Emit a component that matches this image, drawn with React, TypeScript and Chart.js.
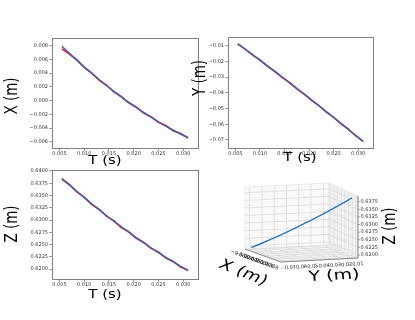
import React, { useEffect, useRef } from "react";
import { Chart, registerables } from "chart.js";
Chart.register(...registerables);

// ---------------- data ----------------
const T = [0.0055, 0.0070, 0.0085, 0.0100, 0.0115, 0.0130, 0.0145, 0.0160, 0.0175, 0.0190, 0.0205, 0.0220, 0.0235, 0.0250, 0.0265, 0.0280, 0.0295, 0.0310];

const X_FIT = [0.00790, 0.00687, 0.00587, 0.00490, 0.00396, 0.00306, 0.00218, 0.00134, 0.00052, -0.00026, -0.00101, -0.00173, -0.00242, -0.00308, -0.00371, -0.00430, -0.00487, -0.00540];
const X_MEAS = [0.00752, 0.00676, 0.00594, 0.00482, 0.00402, 0.00298, 0.00224, 0.00127, 0.00058, -0.00033, -0.00095, -0.00180, -0.00236, -0.00315, -0.00365, -0.00438, -0.00481, -0.00546];

const Y_FIT = [-0.00880, -0.01226, -0.01575, -0.01926, -0.02280, -0.02636, -0.02995, -0.03356, -0.03719, -0.04085, -0.04454, -0.04825, -0.05198, -0.05574, -0.05953, -0.06333, -0.06717, -0.07103];
const Y_MEAS = [-0.00895, -0.01218, -0.01590, -0.01915, -0.02295, -0.02625, -0.03010, -0.03345, -0.03735, -0.04070, -0.04470, -0.04812, -0.05215, -0.05560, -0.05970, -0.06320, -0.06735, -0.07090];

const Z_FIT = [0.63850, 0.63717, 0.63586, 0.63458, 0.63334, 0.63212, 0.63093, 0.62976, 0.62863, 0.62752, 0.62644, 0.62539, 0.62437, 0.62338, 0.62242, 0.62148, 0.62058, 0.61970];
const Z_MEAS = [0.63830, 0.63725, 0.63575, 0.63468, 0.63322, 0.63222, 0.63080, 0.62986, 0.62850, 0.62762, 0.62632, 0.62549, 0.62425, 0.62348, 0.62230, 0.62158, 0.62046, 0.61978];

// ---------------- ticks ----------------
const T_TICKS = [0.005, 0.010, 0.015, 0.020, 0.025, 0.030];
const T_LABELS = ["0.005", "0.010", "0.015", "0.020", "0.025", "0.030"];
const X_TICKS = [0.008, 0.006, 0.004, 0.002, 0.0, -0.002, -0.004, -0.006];
const X_LABELS = ["0.008", "0.006", "0.004", "0.002", "0.000", "\u22120.002", "\u22120.004", "\u22120.006"];
const Y_TICKS = [-0.01, -0.02, -0.03, -0.04, -0.05, -0.06, -0.07];
const Y_LABELS = ["\u22120.01", "\u22120.02", "\u22120.03", "\u22120.04", "\u22120.05", "\u22120.06", "\u22120.07"];
const Z_TICKS = [0.64, 0.6375, 0.635, 0.6325, 0.63, 0.6275, 0.625, 0.6225, 0.62];
const Z_LABELS = ["0.6400", "0.6375", "0.6350", "0.6325", "0.6300", "0.6275", "0.6250", "0.6225", "0.6200"];

const X3_TICKS = [-0.006, -0.004, -0.002, 0.0, 0.002, 0.004, 0.006, 0.008];
const X3_LABELS = ["\u22120.006", "\u22120.004", "\u22120.002", "0.000", "0.002", "0.004", "0.006", "0.008"];
const Y3_TICKS = [-0.07, -0.06, -0.05, -0.04, -0.03, -0.02, -0.01];
const Y3_LABELS = ["\u22120.07", "\u22120.06", "\u22120.05", "\u22120.04", "\u22120.03", "\u22120.02", "\u22120.01"];
const Z3_TICKS = [0.62, 0.6225, 0.625, 0.6275, 0.63, 0.6325, 0.635, 0.6375];
const Z3_LABELS = ["0.6200", "0.6225", "0.6250", "0.6275", "0.6300", "0.6325", "0.6350", "0.6375"];

// axis limits
const T_RANGE = [0.0035, 0.0330];
const X_RANGE = [-0.0069, 0.0091];
const Y_RANGE = [-0.0751, -0.00446];
const Z_RANGE = [0.6180, 0.6402];
const X3_RANGE = [-0.0066, 0.0091];
const Y3_RANGE = [-0.0738, -0.0054];
const Z3_RANGE = [0.6190, 0.6394];

// ---------------- styling / layout ----------------
const FONT = '"DejaVu Sans", sans-serif';
const RED = "#ff2020";
const BLUE = "#3566c0";
const BLUE3D = "#2b7bba";
const SPINE = "#808080";
const TICKTXT = "#333";

type TextItem = { text: string; x: number; y: number; size: number; rot?: number; sy?: number; align?: CanvasTextAlign; color?: string };

function drawText(ctx: CanvasRenderingContext2D, t: TextItem) {
  ctx.save();
  ctx.translate(t.x, t.y);
  ctx.scale(1, t.sy ?? 1);
  ctx.rotate(((t.rot ?? 0) * Math.PI) / 180);
  ctx.font = `${t.size}px ${FONT}`;
  ctx.fillStyle = t.color ?? "#000";
  ctx.textAlign = t.align ?? "center";
  ctx.textBaseline = "middle";
  ctx.fillText(t.text, 0, 0);
  ctx.restore();
}

type PanelCfg = {
  left: number; top: number; width: number; height: number;
  area: [number, number, number, number];
  yRange: number[]; yTicks: number[]; yLabels: string[];
  fit: number[]; meas: number[];
  titles: TextItem[];
};

const PANELS: PanelCfg[] = [
  {
    left: 0, top: 28, width: 210, height: 147, area: [52, 38, 198, 148],
    yRange: X_RANGE, yTicks: X_TICKS, yLabels: X_LABELS, fit: X_FIT, meas: X_MEAS,
    titles: [
      { text: "X (m)", x: 12, y: 68, size: 18, rot: -90, sy: 0.75 },
      { text: "T (s)", x: 105, y: 133, size: 15, sy: 0.8 },
    ],
  },
  {
    left: 185, top: 28, width: 230, height: 147, area: [228, 37, 373, 148],
    yRange: Y_RANGE, yTicks: Y_TICKS, yLabels: Y_LABELS, fit: Y_FIT, meas: Y_MEAS,
    titles: [
      { text: "Y (m)", x: 15, y: 50, size: 18, rot: -90, sy: 0.75 },
      { text: "T (s)", x: 115, y: 130, size: 15, sy: 0.8 },
    ],
  },
  {
    left: 0, top: 160, width: 210, height: 150, area: [52, 170, 198, 279],
    yRange: Z_RANGE, yTicks: Z_TICKS, yLabels: Z_LABELS, fit: Z_FIT, meas: Z_MEAS,
    titles: [
      { text: "Z (m)", x: 12, y: 64, size: 18, rot: -90, sy: 0.75 },
      { text: "T (s)", x: 105, y: 135, size: 15, sy: 0.8 },
    ],
  },
];

function makePanel(canvas: HTMLCanvasElement, p: PanelCfg): Chart {
  const [l, t, r, b] = p.area;
  const tickFont = { size: 5, family: FONT };
  return new Chart(canvas, {
    type: "scatter",
    data: {
      datasets: [
        {
          // fitted curve (drawn on top)
          data: T.map((tv, i) => ({ x: tv, y: p.fit[i] })),
          showLine: true, borderColor: BLUE, borderWidth: 1.4, pointRadius: 0, cubicInterpolationMode: "monotone",
        },
        {
          // measured
          data: T.map((tv, i) => ({ x: tv, y: p.meas[i] })),
          showLine: true, borderColor: RED, borderWidth: 1.8, pointRadius: 0, tension: 0,
        },
      ],
    },
    options: {
      animation: false,
      responsive: false,
      maintainAspectRatio: false,
      events: [],
      layout: { padding: { top: t - p.top, right: p.left + p.width - r, left: 0, bottom: 0 } },
      plugins: { legend: { display: false }, tooltip: { enabled: false } },
      scales: {
        x: {
          type: "linear", min: T_RANGE[0], max: T_RANGE[1],
          afterBuildTicks: (s: any) => { s.ticks = T_TICKS.map((v) => ({ value: v })); },
          afterFit: (s: any) => { s.height = p.top + p.height - b; },
          ticks: { callback: (_v: any, i: number) => T_LABELS[i], font: tickFont, color: TICKTXT, padding: 0, maxRotation: 0, autoSkip: false },
          grid: { drawOnChartArea: false, drawTicks: true, tickLength: 3, color: SPINE, lineWidth: 0.8 },
          border: { display: false },
        },
        y: {
          type: "linear", min: p.yRange[0], max: p.yRange[1],
          afterBuildTicks: (s: any) => { s.ticks = p.yTicks.map((v) => ({ value: v })); },
          afterFit: (s: any) => { s.width = l - p.left; },
          ticks: { callback: (_v: any, i: number) => p.yLabels[i], font: tickFont, color: TICKTXT, padding: 1, autoSkip: false },
          grid: { drawOnChartArea: false, drawTicks: true, tickLength: 3, color: SPINE, lineWidth: 0.8 },
          border: { display: false },
        },
      },
    } as any,
    plugins: [
      {
        id: "frameAndTitles",
        afterDraw(chart: any) {
          const ctx = chart.ctx as CanvasRenderingContext2D;
          const a = chart.chartArea;
          ctx.save();
          ctx.strokeStyle = SPINE;
          ctx.lineWidth = 1;
          ctx.strokeRect(Math.round(a.left) + 0.5, Math.round(a.top) + 0.5, Math.round(a.right - a.left), Math.round(a.bottom - a.top));
          ctx.restore();
          p.titles.forEach((tt) => drawText(ctx, tt));
        },
      },
    ],
  });
}

// ---------------- 3D panel ----------------
const C3 = { left: 205, top: 180, width: 210, height: 120 };
// projected box corners on the floor (canvas px) and wall height
const CORNER_L = [40, 69]; // xmin, ymin
const CORNER_F = [76, 82]; // xmax, ymin
const CORNER_R = [153, 78]; // xmax, ymax
const CORNER_B = [124, 65]; // xmin, ymax
const WALL_H = 62;

function projN(a: number, b: number, c: number) {
  const wL = (1 - a) * (1 - b), wF = a * (1 - b), wR = a * b, wB = (1 - a) * b;
  const px = wL * CORNER_L[0] + wF * CORNER_F[0] + wR * CORNER_R[0] + wB * CORNER_B[0];
  const py = wL * CORNER_L[1] + wF * CORNER_F[1] + wR * CORNER_R[1] + wB * CORNER_B[1];
  return { x: px, y: py - c * WALL_H };
}
const na = (x: number) => (x - X3_RANGE[0]) / (X3_RANGE[1] - X3_RANGE[0]);
const nb = (y: number) => (y - Y3_RANGE[0]) / (Y3_RANGE[1] - Y3_RANGE[0]);
const nc = (z: number) => (z - Z3_RANGE[0]) / (Z3_RANGE[1] - Z3_RANGE[0]);
function proj(x: number, y: number, z: number) {
  return projN(na(x), nb(y), nc(z));
}

function make3D(canvas: HTMLCanvasElement): Chart {
  const titles: TextItem[] = [
    { text: "X (m)", x: 38, y: 93, size: 19, rot: 28, sy: 0.75 },
    { text: "Y (m)", x: 129, y: 96, size: 19, rot: -4, sy: 0.75 },
    { text: "Z (m)", x: 185, y: 46, size: 18, rot: -90, sy: 0.75 },
  ];
  return new Chart(canvas, {
    type: "scatter",
    data: {
      datasets: [
        {
          data: T.map((_t, i) => proj(X_FIT[i], Y_FIT[i], Z_FIT[i])),
          showLine: true, borderColor: BLUE3D, borderWidth: 1.4, pointRadius: 0, tension: 0,
        },
      ],
    },
    options: {
      animation: false,
      responsive: false,
      maintainAspectRatio: false,
      events: [],
      layout: { padding: 0 },
      plugins: { legend: { display: false }, tooltip: { enabled: false } },
      scales: {
        x: { type: "linear", min: 0, max: C3.width, display: false },
        y: { type: "linear", min: 0, max: C3.height, reverse: true, display: false },
      },
    } as any,
    plugins: [
      {
        id: "box3d",
        beforeDatasetsDraw(chart: any) {
          const ctx = chart.ctx as CanvasRenderingContext2D;
          const sx = chart.scales.x, sy = chart.scales.y;
          const P = (a: number, b: number, c: number) => {
            const q = projN(a, b, c);
            return [sx.getPixelForValue(q.x), sy.getPixelForValue(q.y)];
          };
          const poly = (pts: number[][], fill: string, stroke: string) => {
            ctx.beginPath();
            pts.forEach((pt, i) => (i ? ctx.lineTo(pt[0], pt[1]) : ctx.moveTo(pt[0], pt[1])));
            ctx.closePath();
            ctx.fillStyle = fill;
            ctx.fill();
            ctx.strokeStyle = stroke;
            ctx.lineWidth = 0.8;
            ctx.stroke();
          };
          const seg = (p1: number[], p2: number[], color: string, w: number) => {
            ctx.beginPath();
            ctx.moveTo(p1[0], p1[1]);
            ctx.lineTo(p2[0], p2[1]);
            ctx.strokeStyle = color;
            ctx.lineWidth = w;
            ctx.stroke();
          };
          ctx.save();
          // panes
          poly([P(0, 0, 0), P(1, 0, 0), P(1, 1, 0), P(0, 1, 0)], "#f4f4f4", "#e4e4e4");
          poly([P(0, 0, 0), P(0, 1, 0), P(0, 1, 1), P(0, 0, 1)], "#f9f9f9", "#e4e4e4");
          poly([P(0, 1, 0), P(1, 1, 0), P(1, 1, 1), P(0, 1, 1)], "#f1f1f1", "#e4e4e4");
          const GRID = "#dcdcdc";
          // floor grid
          X3_TICKS.forEach((v) => seg(P(na(v), 0, 0), P(na(v), 1, 0), GRID, 0.8));
          Y3_TICKS.forEach((v) => seg(P(0, nb(v), 0), P(1, nb(v), 0), GRID, 0.8));
          // wall a=0 (Y-Z)
          Y3_TICKS.forEach((v) => seg(P(0, nb(v), 0), P(0, nb(v), 1), GRID, 0.8));
          Z3_TICKS.forEach((v) => seg(P(0, 0, nc(v)), P(0, 1, nc(v)), GRID, 0.8));
          // wall b=1 (X-Z)
          X3_TICKS.forEach((v) => seg(P(na(v), 1, 0), P(na(v), 1, 1), GRID, 0.8));
          Z3_TICKS.forEach((v) => seg(P(0, 1, nc(v)), P(1, 1, nc(v)), GRID, 0.8));
          // axis lines
          const AX = "#6e6e6e";
          seg(P(0, 0, 0), P(1, 0, 0), AX, 0.8);
          seg(P(1, 0, 0), P(1, 1, 0), AX, 0.8);
          seg(P(1, 1, 0), P(1, 1, 1), AX, 0.8);
          // tick labels
          Z3_TICKS.forEach((v, i) => {
            const q = P(1, 1, nc(v));
            seg(q, [q[0] + 2, q[1]], AX, 0.6);
            drawText(ctx, { text: Z3_LABELS[i], x: q[0] + 2.5, y: q[1], size: 5, align: "left", color: TICKTXT });
          });
          Y3_TICKS.forEach((v, i) => {
            const q = P(1, nb(v), 0);
            drawText(ctx, { text: Y3_LABELS[i], x: q[0] + 3, y: q[1] + 6, size: 5, rot: -5, color: TICKTXT });
          });
          X3_TICKS.forEach((v, i) => {
            const q = P(na(v), 0, 0);
            drawText(ctx, { text: X3_LABELS[i], x: q[0] - 7, y: q[1] + 5, size: 5, rot: 20, color: TICKTXT });
          });
          ctx.restore();
        },
        afterDraw(chart: any) {
          titles.forEach((tt) => drawText(chart.ctx, tt));
        },
      },
    ],
  });
}

export default function App() {
  const r1 = useRef<HTMLCanvasElement>(null);
  const r2 = useRef<HTMLCanvasElement>(null);
  const r3 = useRef<HTMLCanvasElement>(null);
  const r4 = useRef<HTMLCanvasElement>(null);

  useEffect(() => {
    const charts: Chart[] = [];
    const refs = [r1, r2, r3];
    refs.forEach((ref, i) => {
      if (ref.current) charts.push(makePanel(ref.current, PANELS[i]));
    });
    if (r4.current) charts.push(make3D(r4.current));
    return () => charts.forEach((c) => c.destroy());
  }, []);

  const refs = [r1, r2, r3];
  return (
    <div style={{ position: "absolute", left: 0, top: 0, width: 415, height: 320, background: "#fff", overflow: "hidden" }}>
      {PANELS.map((p, i) => (
        <canvas
          key={i}
          ref={refs[i]}
          width={p.width}
          height={p.height}
          style={{ position: "absolute", left: p.left, top: p.top, width: p.width, height: p.height }}
        />
      ))}
      <canvas
        ref={r4}
        width={C3.width}
        height={C3.height}
        style={{ position: "absolute", left: C3.left, top: C3.top, width: C3.width, height: C3.height }}
      />
    </div>
  );
}
